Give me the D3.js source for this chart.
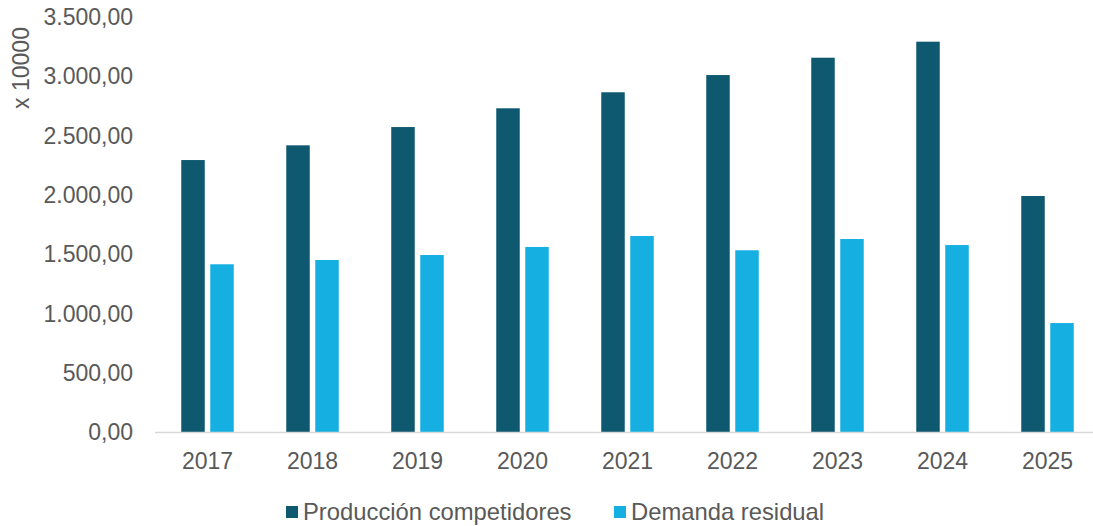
<!DOCTYPE html>
<html>
<head>
<meta charset="utf-8">
<script src="https://cdn.jsdelivr.net/npm/d3@7"></script>
<style>
  html, body { margin: 0; padding: 0; background: #fff; }
  svg { display: block; font-family: "Liberation Sans", Arial, sans-serif; }
</style>
</head>
<body>
<svg id="chart" width="1093" height="526"></svg>
<script>
// Years on the category axis
const years = ["2017", "2018", "2019", "2020", "2021", "2022", "2023", "2024", "2025"];
// Series names and values (x 10000)
const seriesNames = ["Producción competidores", "Demanda residual"];
const produccion = [2295, 2419, 2573, 2731, 2866, 3011, 3157, 3292, 1992];
const demanda = [1417, 1453, 1495, 1563, 1655, 1535, 1630, 1579, 922];
const yTicks = [0, 500, 1000, 1500, 2000, 2500, 3000, 3500];
const colors = ["#0E5970", "#15AFE1"];

const series = [produccion, demanda];
const rows = years.map((y, i) => ({ year: y, values: series.map(s => s[i]) }));

const svg = d3.select("#chart");
const textColor = "#595959";
const fontSize = 23;

const x = d3.scaleBand().domain(years).range([155, 1100]).paddingInner(0).paddingOuter(0);
const xs = d3.scaleBand().domain(d3.range(series.length)).range([0, x.bandwidth()])
  .paddingInner(0.19).paddingOuter(0.905);
const y = d3.scaleLinear().domain([0, 3500]).range([432.5, 17]);

const esLocale = d3.formatLocale({ decimal: ",", thousands: ".", grouping: [3], currency: ["", "€"] });
const fmt = esLocale.format(",.2f");

// Y axis: labels only
const yAxis = d3.axisLeft(y).tickValues(yTicks).tickFormat(fmt).tickSize(0).tickPadding(0);
const gy = svg.append("g").attr("transform", "translate(133,0)").call(yAxis);
gy.select(".domain").remove();
gy.selectAll("text").attr("fill", textColor).style("font-size", fontSize + "px")
  .style("font-family", "'Liberation Sans', Arial, sans-serif");

// Axis unit label
svg.append("text")
  .attr("transform", "translate(29,68) rotate(-90)")
  .attr("text-anchor", "middle")
  .attr("fill", textColor)
  .style("font-size", fontSize + "px")
  .text("x 10000");

// Bars
const groups = svg.append("g").selectAll("g").data(rows).join("g")
  .attr("transform", d => `translate(${x(d.year)},0)`);
groups.selectAll("rect").data(d => d.values.map((v, i) => ({ v, i }))).join("rect")
  .attr("x", d => xs(d.i))
  .attr("width", xs.bandwidth())
  .attr("y", d => y(d.v))
  .attr("height", d => y(0) - y(d.v))
  .attr("fill", d => colors[d.i]);

// X axis
const xAxis = d3.axisBottom(x).tickSize(0).tickPadding(0);
const gx = svg.append("g").attr("transform", `translate(0,${y(0)})`).call(xAxis);
gx.select(".domain").attr("stroke", "#D9D9D9").attr("stroke-width", 1.5)
  .attr("d", `M155,0H1093`);
gx.selectAll("text").attr("fill", textColor).attr("dy", null).attr("y", 36)
  .style("font-size", fontSize + "px")
  .style("font-family", "'Liberation Sans', Arial, sans-serif");

// Legend
const legendX = [286, 614];
const legend = svg.append("g").selectAll("g").data(seriesNames).join("g")
  .attr("transform", (d, i) => `translate(${legendX[i]},506)`);
legend.append("rect").attr("width", 12).attr("height", 12).attr("fill", (d, i) => colors[i]);
legend.append("text").attr("x", 17).attr("y", 14).attr("fill", textColor)
  .style("font-size", "23.8px").text(d => d);
</script>
</body>
</html>
